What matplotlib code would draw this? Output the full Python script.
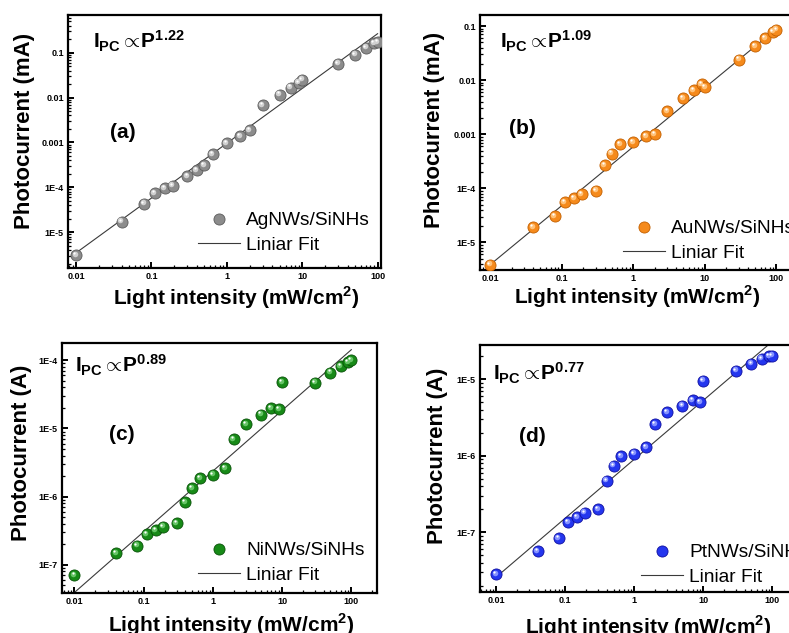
import numpy as np
import matplotlib.pyplot as plt
from matplotlib.ticker import LogLocator, FuncFormatter, NullFormatter
from matplotlib.transforms import offset_copy

plt.rcParams['font.family'] = ['Liberation Sans', 'DejaVu Sans']
plt.rcParams['mathtext.fontset'] = 'custom'
plt.rcParams['mathtext.rm'] = 'Liberation Sans'
plt.rcParams['mathtext.bf'] = 'Liberation Sans:bold'

# Datos
intensity = [0.01, 0.04, 0.08, 0.11, 0.15, 0.19, 0.3, 0.4, 0.5, 0.65, 1, 1.5, 2,
             3, 5, 7, 9, 10, 30, 50, 70, 90, 100]

ag_current = [3.1e-6, 1.72e-5, 4.3e-5, 7.4e-5, 9.5e-5, 1.08e-4, 1.78e-4, 2.4e-4, 3.1e-4,
              5.5e-4, 9.5e-4, 1.4e-3, 1.9e-3, 6.8e-3, 0.0117, 0.0167, 0.0215, 0.025,
              0.057, 0.09, 0.128, 0.164, 0.17]
au_current = [3.9e-6, 1.9e-5, 3.1e-5, 5.6e-5, 6.6e-5, 7.9e-5, 9.1e-5, 2.7e-4, 4.4e-4,
              6.5e-4, 7.2e-4, 9.2e-4, 1.0e-3, 2.7e-3, 4.7e-3, 6.5e-3, 8.4e-3, 7.5e-3,
              0.024, 0.042, 0.06, 0.078, 0.086]
ni_current = [7.1e-8, 1.48e-7, 1.9e-7, 2.8e-7, 3.2e-7, 3.6e-7, 4.1e-7, 8.2e-7, 1.33e-6,
              1.86e-6, 2.1e-6, 2.6e-6, 6.9e-6, 1.16e-5, 1.6e-5, 2.0e-5, 1.9e-5, 4.8e-5,
              4.7e-5, 6.6e-5, 8.2e-5, 9.4e-5, 1.0e-4]
pt_current = [2.8e-8, 5.6e-8, 8.3e-8, 1.34e-7, 1.56e-7, 1.8e-7, 2.0e-7, 4.7e-7, 7.4e-7,
              9.8e-7, 1.06e-6, 1.3e-6, 2.6e-6, 3.7e-6, 4.5e-6, 5.3e-6, 5.0e-6, 9.6e-6,
              1.3e-5, 1.6e-5, 1.85e-5, 2.0e-5, 2.04e-5]

series = [ag_current, au_current, ni_current, pt_current]
labels = ['AgNWs/SiNHs', 'AuNWs/SiNHs', 'NiNWs/SiNHs', 'PtNWs/SiNHs']
exponents = [1.22, 1.09, 0.89, 0.77]
prefactors = [9.6e-4, 5.9e-4, 2.37e-6, 9.0e-7]
letters = ['(a)', '(b)', '(c)', '(d)']
ylabels = ['Photocurrent (mA)', 'Photocurrent (mA)', 'Photocurrent (A)', 'Photocurrent (A)']

# Estilo por panel
colors = [('#8c8c8c', '#5c5c5c', '#d0d0d0'),
          ('#f58a1c', '#c25f00', '#ffc27a'),
          ('#178a17', '#0a520a', '#66c466'),
          ('#2436ee', '#1010a0', '#8592ff')]
xlims = [(0.0078, 111), (0.0072, 200), (0.0066, 235), (0.0058, 200)]
ylims = [(1.6e-6, 0.69), (3.1e-6, 0.16), (3.86e-8, 1.79e-4), (1.65e-8, 2.81e-5)]
# posiciones en pixeles: izquierda, arriba, derecha, abajo
rects = [(68, 15, 381, 268), (480, 15, 798, 270),
         (62, 343, 377, 593), (480, 345, 793, 592)]
text_pos = [(93, 48), (500, 49), (75, 373), (493, 380)]
letter_pos = [(123, 132), (522, 128), (122, 435), (532, 437)]
legend_pos = [(198, 212), (623, 220), (198, 542), (641, 544)]
ylabel_pos = [(35, 131), (445, 130), (32, 453), (448, 456)]
xlabel_pos = [(236, 284), (637, 283), (231, 611), (648, 613)]

W, H = 789, 633
fig = plt.figure(figsize=(W / 100, H / 100), dpi=100)


def yfmt(v, p):
    e = int(round(np.log10(v)))
    if e >= -3:
        return '%g' % 10.0 ** e
    return '1E%d' % e


for i in range(4):
    l, t, r, b = rects[i]
    ax = fig.add_axes([l / W, 1 - b / H, (r - l) / W, (b - t) / H])
    ax.set_xscale('log')
    ax.set_yscale('log')
    c, dark, light = colors[i]
    ax.plot(intensity, series[i], 'o', ms=8, mfc=c, mec=dark, mew=0.6,
            label=labels[i], zorder=3)
    hl = offset_copy(ax.transData, fig=fig, x=-1.0, y=1.0, units='points')
    ax.plot(intensity, series[i], 'o', ms=4, mfc=light, mec='none', transform=hl, zorder=4)
    gl = offset_copy(ax.transData, fig=fig, x=-1.4, y=1.5, units='points')
    ax.plot(intensity, series[i], 'o', ms=1.6, mfc='white', mec='none', transform=gl, zorder=5)

    xf = np.logspace(np.log10(intensity[0]), np.log10(intensity[-1]), 50)
    ax.plot(xf, prefactors[i] * xf ** exponents[i], color='#3a3a3a', lw=0.8,
            label='Liniar Fit', zorder=2)

    ax.set_xlim(*xlims[i])
    ax.set_ylim(*ylims[i])
    for sp in ax.spines.values():
        sp.set_linewidth(1.6)
    ax.xaxis.set_major_locator(LogLocator(base=10, numticks=10))
    ax.xaxis.set_minor_locator(LogLocator(base=10, subs=np.arange(2, 10), numticks=10))
    ax.yaxis.set_major_locator(LogLocator(base=10, numticks=10))
    ax.yaxis.set_minor_locator(LogLocator(base=10, subs=np.arange(2, 10), numticks=10))
    ax.xaxis.set_major_formatter(FuncFormatter(lambda v, p: '%g' % v))
    ax.yaxis.set_major_formatter(FuncFormatter(yfmt))
    ax.xaxis.set_minor_formatter(NullFormatter())
    ax.yaxis.set_minor_formatter(NullFormatter())
    ax.tick_params(which='major', direction='in', length=4, width=1.4, pad=3,
                   labelsize=6.5)
    ax.tick_params(which='minor', direction='in', length=2, width=0.9)
    for lab in ax.get_xticklabels() + ax.get_yticklabels():
        lab.set_fontweight('bold')

    ax.set_ylabel(ylabels[i], fontsize=16, fontweight='bold')
    ax.set_xlabel('Light intensity (mW/cm$^\\mathbf{2}$)', fontsize=15, fontweight='bold')
    yx, yy = ylabel_pos[i]
    ax.yaxis.set_label_coords((yx - l) / (r - l), (b - yy) / (b - t))
    xx, xy = xlabel_pos[i]
    ax.xaxis.set_label_coords((xx - l) / (r - l), (b - xy) / (b - t))

    tx, ty = text_pos[i]
    ax.annotate(r'$\mathbf{I_{PC}}\propto\!\mathbf{P^{%.2f}}$' % exponents[i],
                xy=(tx, H - ty), xycoords='figure pixels', fontsize=15,
                ha='left', va='baseline')
    lx, ly = letter_pos[i]
    ax.annotate(letters[i], xy=(lx, H - ly), xycoords='figure pixels', fontsize=15,
                fontweight='bold', ha='center', va='center')

    gx, gy = legend_pos[i]
    ax.legend(loc='upper left', bbox_to_anchor=(gx / W, 1 - gy / H),
              bbox_transform=fig.transFigure, frameon=False, borderpad=0,
              borderaxespad=0, handlelength=2.2, handletextpad=0.3,
              labelspacing=0.35, fontsize=13.8, numpoints=1)

fig.savefig('out.png', dpi=100)
